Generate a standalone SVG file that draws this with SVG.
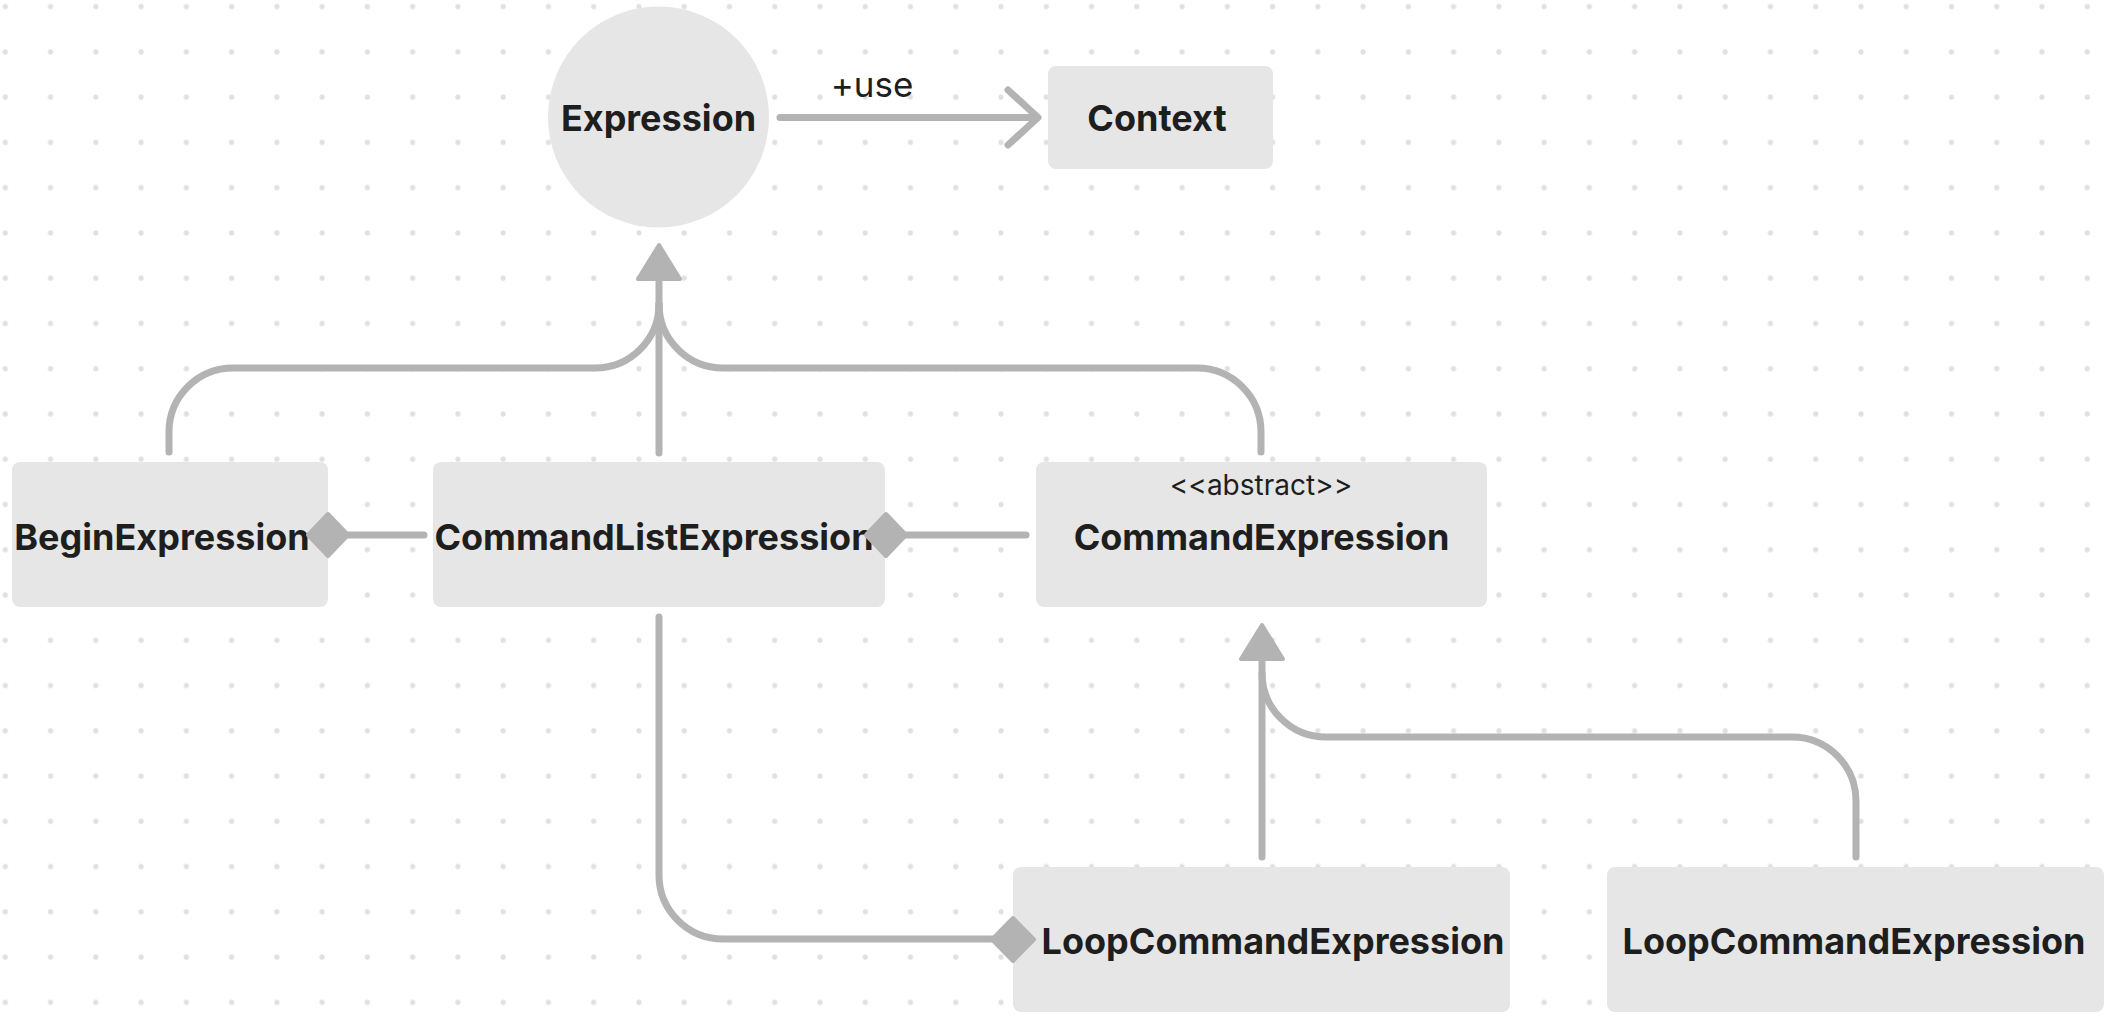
<svg xmlns="http://www.w3.org/2000/svg" width="2124" height="1036" viewBox="0 0 2124 1036">
<style>
.node{fill:#e6e6e6}
.lbl{font-family:Inter,"Liberation Sans",sans-serif;font-weight:700;font-size:36px;fill:#1e1e1e}
.small{font-family:Inter,"Liberation Sans",sans-serif;font-weight:400;fill:#1e1e1e}
.edge{fill:none;stroke:#b3b3b3;stroke-width:7;stroke-linecap:round;stroke-linejoin:round}
.head{fill:#b3b3b3;stroke:#b3b3b3;stroke-width:4;stroke-linejoin:round}
</style>
<defs>
<pattern id="dots" patternUnits="userSpaceOnUse" x="-17.33" y="-16" width="45.26" height="45.26">
<circle cx="22.63" cy="22.63" r="2.6" fill="#e0e0e0"/>
</pattern>
</defs>
<rect width="2124" height="1036" fill="#ffffff"/>
<rect width="2124" height="1036" fill="url(#dots)"/>

<g id="connectors">
<!-- Expression uses Context -->
<path class="edge" d="M780,117.5 H1037"/>
<path class="edge" d="M1008,90 L1038,117.5 L1008,145"/>
<text class="small" x="872" y="97" font-size="35" text-anchor="middle">+use</text>

<!-- generalization to Expression -->
<path class="edge" d="M659,453 V282"/>
<path class="edge" d="M169,452 V432 A64,64 0 0 1 233,368 H595 A64,64 0 0 0 659,304"/>
<path class="edge" d="M1261,452 V432 A64,64 0 0 0 1197,368 H723 A64,64 0 0 1 659,304"/>
<polygon class="head" points="659,245 638,279 680,279"/>

<!-- generalization to CommandExpression -->
<path class="edge" d="M1262,857 V662"/>
<path class="edge" d="M1856,857 V801 A64,64 0 0 0 1792,737 H1326 A64,64 0 0 1 1262,673"/>
<polygon class="head" points="1262,625 1241,659 1283,659"/>

<!-- compositions -->
<path class="edge" d="M346,535 H424"/>
<path class="edge" d="M904,535 H1026"/>
<path class="edge" d="M659,617 V875 A64,64 0 0 0 723,939 H995"/>
</g>

<g id="node-expression">
<circle class="node" cx="658.5" cy="117" r="110.5"/>
<text class="lbl" x="658.5" y="131" text-anchor="middle">Expression</text>
</g>
<g id="node-context">
<rect class="node" x="1048" y="66" width="225" height="103" rx="8"/>
<text class="lbl" x="1157" y="131" text-anchor="middle">Context</text>
</g>
<g id="node-begin">
<rect class="node" x="12" y="462" width="316" height="145" rx="8"/>
<text class="lbl" x="162" y="550" text-anchor="middle">BeginExpression</text>
</g>
<g id="node-commandlist">
<rect class="node" x="433" y="462" width="452" height="145" rx="8"/>
<text class="lbl" x="654" y="550" text-anchor="middle">CommandListExpression</text>
</g>
<g id="node-command">
<rect class="node" x="1036" y="462" width="451" height="145" rx="8"/>
<text class="small" x="1261" y="495" font-size="28" text-anchor="middle">&lt;&lt;abstract&gt;&gt;</text>
<text class="lbl" x="1261.5" y="550" text-anchor="middle">CommandExpression</text>
</g>
<g id="node-loop1">
<rect class="node" x="1013" y="867" width="497" height="145" rx="8"/>
<text class="lbl" x="1273" y="954" text-anchor="middle">LoopCommandExpression</text>
</g>
<g id="node-loop2">
<rect class="node" x="1607" y="867" width="497" height="145" rx="8"/>
<text class="lbl" x="1854" y="954" text-anchor="middle">LoopCommandExpression</text>
</g>
<!-- composition diamonds drawn over node edges -->
<g id="diamonds">
<polygon class="head" points="328,514 348,535 328,556 308,535"/>
<polygon class="head" points="886,514 906,535 886,556 866,535"/>
<polygon class="head" points="1013,918 1034,939.5 1013,961 992,939.5"/>
</g>
</svg>
